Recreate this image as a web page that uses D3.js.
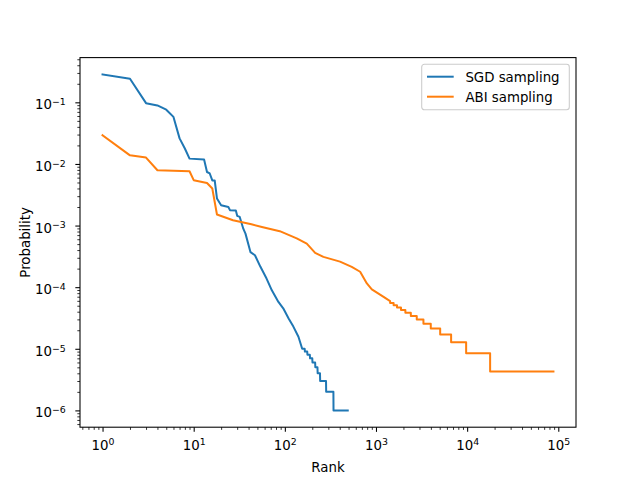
<!DOCTYPE html>
<html>
<head>
<meta charset="utf-8">
<script src="https://cdn.jsdelivr.net/npm/d3@7"></script>
<style>
  body { margin: 0; background: #fff; }
  text { font-family: "DejaVu Sans", sans-serif; fill: #000; }
</style>
</head>
<body>
<svg id="chart" width="640" height="480"></svg>
<script>
var width = 640;
var height = 480;
var margin = { left: 80, right: 64, top: 57.6, bottom: 52.8 };

// SGD sampling, rank vs probability
var sgdRank = [1, 2, 3, 4, 5, 6, 7, 8, 9, 13, 14, 15, 16, 17, 18, 20, 24, 25, 29, 30, 32, 35, 37, 42, 47, 54, 63, 72, 85, 96, 110, 124, 141, 155, 165, 166, 176, 177, 188, 189, 200, 201, 215, 216, 228, 229, 243, 244, 283, 284, 341, 342, 490];
var sgdProb = [0.284, 0.242, 0.097, 0.089, 0.076, 0.058, 0.026, 0.0178, 0.0122, 0.0118, 0.0074, 0.0070, 0.0054, 0.0054, 0.00275, 0.00214, 0.0020, 0.00178, 0.00175, 0.00144, 0.00138, 0.00089, 0.00074, 0.00037, 0.00033, 0.000214, 0.000138, 0.000089, 0.0000576, 0.0000454, 0.000031, 0.0000229, 0.0000157, 0.00001, 0.00001, 0.000009, 0.000009, 0.000008, 0.000008, 0.000007, 0.000007, 0.000006, 0.000006, 0.000005, 0.000005, 0.000004, 0.000004, 0.000003, 0.000003, 0.000002, 0.000002, 0.000001, 0.000001];

// ABI sampling
var abiRank = [1, 2, 3, 4, 9, 10, 14, 16, 18, 27, 43, 56, 88, 135, 174, 215, 265, 403, 542, 670, 794, 900, 1200, 1428, 1429, 1560, 1561, 1700, 1701, 1880, 1881, 2100, 2101, 2410, 2411, 2800, 2801, 3315, 3316, 3990, 3991, 5060, 5061, 6670, 6671, 9750, 9751, 17870, 17871, 88500];
var abiProb = [0.0292, 0.0138, 0.0127, 0.0079, 0.0076, 0.00545, 0.0049, 0.0040, 0.00151, 0.00122, 0.00105, 0.00095, 0.00081, 0.00062, 0.00051, 0.00036, 0.00031, 0.00026, 0.000214, 0.000178, 0.000115, 0.000092, 0.00007, 0.0000595, 0.0000553, 0.0000553, 0.000051, 0.000051, 0.0000468, 0.0000468, 0.0000425, 0.0000425, 0.0000383, 0.0000383, 0.000034, 0.000034, 0.0000298, 0.0000298, 0.0000255, 0.0000255, 0.0000213, 0.0000213, 0.000017, 0.000017, 0.0000128, 0.0000128, 0.0000085, 0.0000085, 0.00000426, 0.00000426];

var seriesNames = ["SGD sampling", "ABI sampling"];
var seriesColors = ["#1f77b4", "#ff7f0e"];
var xMajor = [1, 10, 100, 1000, 10000, 100000];
var yMajor = [1e-6, 1e-5, 1e-4, 1e-3, 1e-2, 1e-1];

var series = [
  sgdRank.map((r, i) => ({ rank: r, prob: sgdProb[i] })),
  abiRank.map((r, i) => ({ rank: r, prob: abiProb[i] })),
];

// matplotlib style 5% margins in log space
function logPad(lo, hi) {
  var a = Math.log10(lo), b = Math.log10(hi), m = (b - a) * 0.05;
  return [Math.pow(10, a - m), Math.pow(10, b + m)];
}
var allRank = sgdRank.concat(abiRank);
var allProb = sgdProb.concat(abiProb);

var x0 = margin.left, x1 = width - margin.right;
var y0 = margin.top, y1 = height - margin.bottom;

var xScale = d3.scaleLog().domain(logPad(d3.min(allRank), d3.max(allRank))).range([x0, x1]);
var yScale = d3.scaleLog().domain(logPad(d3.min(allProb), d3.max(allProb))).range([y1, y0]);

function minorTicks(scale) {
  var d = scale.domain(), out = [];
  for (var e = Math.floor(Math.log10(d[0])); e <= Math.ceil(Math.log10(d[1])); e++) {
    for (var k = 2; k <= 9; k++) {
      var v = k * Math.pow(10, e);
      if (v >= d[0] && v <= d[1]) out.push(v);
    }
  }
  return out;
}

var svg = d3.select("#chart");

// lines
var line = d3.line().x((d) => xScale(d.rank)).y((d) => yScale(d.prob));
svg.selectAll("path.series")
  .data(series)
  .enter()
  .append("path")
  .attr("class", "series")
  .attr("d", line)
  .attr("fill", "none")
  .attr("stroke", (d, i) => seriesColors[i])
  .attr("stroke-width", 2)
  .attr("stroke-linejoin", "round")
  .attr("stroke-linecap", "square");

// minor ticks
svg.append("g")
  .attr("transform", `translate(0, ${y1})`)
  .call(d3.axisBottom(xScale).tickValues(minorTicks(xScale)).tickSize(2.67).tickFormat(""))
  .call((g) => g.select(".domain").remove())
  .selectAll("line").attr("stroke-width", 0.8);
svg.append("g")
  .attr("transform", `translate(${x0}, 0)`)
  .call(d3.axisLeft(yScale).tickValues(minorTicks(yScale)).tickSize(2.67).tickFormat(""))
  .call((g) => g.select(".domain").remove())
  .selectAll("line").attr("stroke-width", 0.8);

// major ticks, labels drawn as 10 with superscript
function powerLabel(d) {
  var e = Math.round(Math.log10(d));
  var t = d3.select(this).text("");
  t.append("tspan").text("10");
  t.append("tspan").attr("dy", "-0.45em").style("font-size", "9.4px").text(e < 0 ? "\u2212" + (-e) : String(e));
}

var xAxisG = svg.append("g")
  .attr("transform", `translate(0, ${y1})`)
  .call(d3.axisBottom(xScale).tickValues(xMajor).tickSize(4.67).tickPadding(4.67))
  .call((g) => g.select(".domain").remove());
xAxisG.selectAll("line").attr("stroke-width", 1.07);
xAxisG.selectAll("text")
  .attr("dy", null)
  .attr("y", 22.5)
  .style("font-size", "13.33px")
  .style("font-family", "DejaVu Sans")
  .each(powerLabel);

var yAxisG = svg.append("g")
  .attr("transform", `translate(${x0}, 0)`)
  .call(d3.axisLeft(yScale).tickValues(yMajor).tickSize(4.67).tickPadding(9.5))
  .call((g) => g.select(".domain").remove());
yAxisG.selectAll("line").attr("stroke-width", 1.07);
yAxisG.selectAll("text")
  .attr("dy", null)
  .attr("y", 6.5)
  .style("font-size", "13.33px")
  .style("font-family", "DejaVu Sans")
  .each(powerLabel);

// frame
svg.append("rect")
  .attr("x", x0).attr("y", y0)
  .attr("width", x1 - x0).attr("height", y1 - y0)
  .attr("fill", "none")
  .attr("stroke", "#000")
  .attr("stroke-width", 1.07);

// axis labels
svg.append("text")
  .attr("x", (x0 + x1) / 2)
  .attr("y", 472)
  .style("text-anchor", "middle")
  .style("font-size", "13.33px")
  .text("Rank");

svg.append("text")
  .attr("transform", `translate(30, ${(y0 + y1) / 2}) rotate(-90)`)
  .style("text-anchor", "middle")
  .style("font-size", "13.33px")
  .text("Probability");

// legend
var legend = svg.append("g").attr("transform", "translate(421.7, 64.3)");
legend.append("rect")
  .attr("width", 147.6).attr("height", 45.5)
  .attr("rx", 2.7)
  .attr("fill", "#fff").attr("fill-opacity", 0.8)
  .attr("stroke", "#cccccc").attr("stroke-width", 1.07);
var items = legend.selectAll("g.item")
  .data(seriesNames)
  .enter()
  .append("g")
  .attr("class", "item")
  .attr("transform", (d, i) => `translate(0, ${12.4 + i * 20})`);
items.append("line")
  .attr("x1", 5.3).attr("x2", 32)
  .attr("stroke", (d, i) => seriesColors[i])
  .attr("stroke-width", 2);
items.append("text")
  .attr("x", 43.7)
  .attr("y", 4.8)
  .style("font-size", "13.33px")
  .text((d) => d);
</script>
</body>
</html>
